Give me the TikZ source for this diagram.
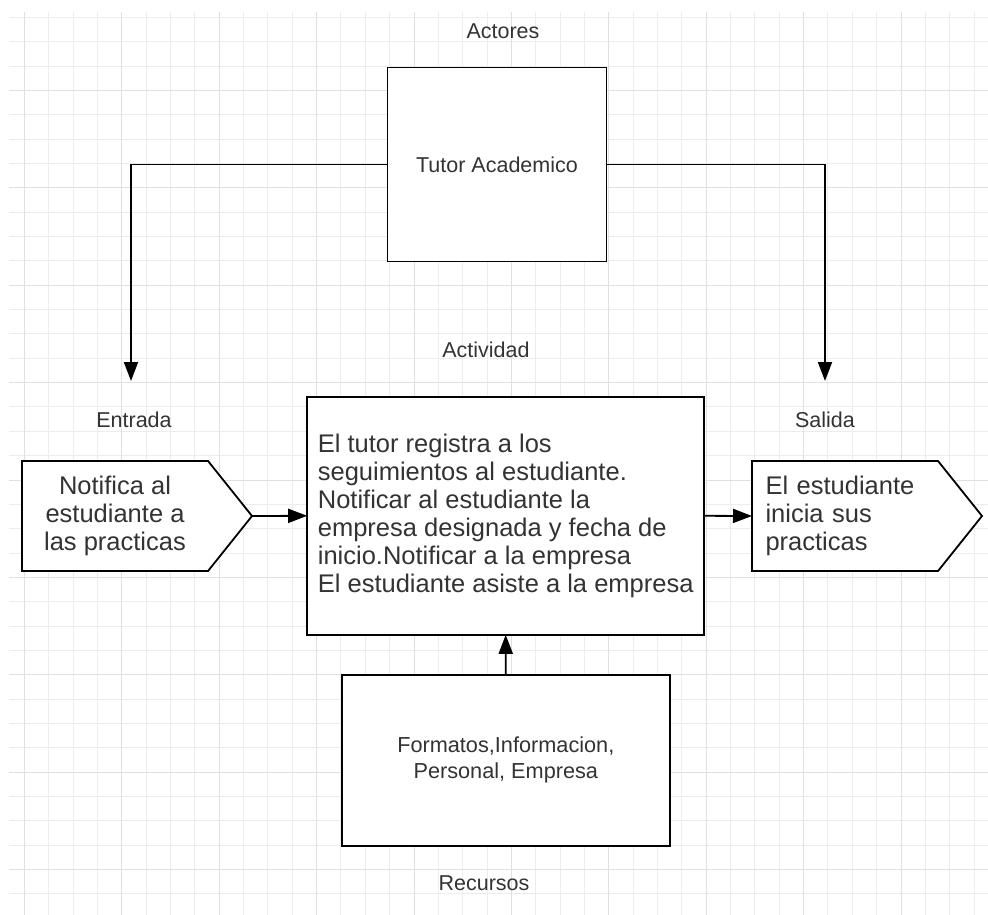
\documentclass[tikz,border=0pt]{standalone}
\usepackage{fontspec}
\setmainfont{Liberation Sans}
\usetikzlibrary{shapes.symbols,arrows.meta}
\definecolor{rejillaclara}{HTML}{ECECEC}
\definecolor{rejillaosc}{HTML}{E0E0E0}
\definecolor{texto}{HTML}{333333}

\begin{document}
\begin{tikzpicture}[x=1pt,y=-1pt,
    caja/.style={draw=black, line width=1.8pt, fill=white, outer sep=0pt, text=texto},
    flecha/.style={line width=1.8pt, -{Triangle[length=19pt,width=14pt]}},
    etiqueta/.style={text=texto, font=\fontsize{21.5}{26}\selectfont},
    grande/.style={font=\fontsize{25.5}{28}\selectfont},
    pentagono/.style={caja, grande, signal, signal to=east, signal pointer angle=102.7,
                      minimum width=230pt, minimum height=110pt, anchor=west}]
\useasboundingbox (0,0) rectangle (988,915);

% rejilla de fondo
\foreach \k in {1,...,40}
  \draw[rejillaclara, line width=0.9pt] (24.35*\k,12) -- (24.35*\k,915);
\foreach \k in {0,...,36}
  \draw[rejillaclara, line width=0.9pt] (9,17.3+24.35*\k) -- (988,17.3+24.35*\k);
\foreach \k in {1,5,...,37}
  \draw[rejillaosc, line width=0.9pt] (24.35*\k,12) -- (24.35*\k,915);
\foreach \k in {3,7,...,35}
  \draw[rejillaosc, line width=0.9pt] (9,17.3+24.35*\k) -- (988,17.3+24.35*\k);

% etiquetas
\node[etiqueta] (actores) at (503,31) {Actores};
\node[etiqueta] (actividad) at (486,350) {Actividad};
\node[etiqueta] (lblentrada) at (134,420) {Entrada};
\node[etiqueta] (lblsalida) at (825,420) {Salida};
\node[etiqueta] (recursos) at (484,883) {Recursos};

% cajas
\node[caja, etiqueta, minimum width=219pt, minimum height=194pt] (tutor) at (497,164.5) {Tutor Academico};
\node[caja, grande, minimum width=397pt, minimum height=238pt, align=left] (proceso) at (505.7,515.8)
  {El tutor registra a los\\
   seguimientos al estudiante.\\
   Notificar al estudiante la\\
   empresa designada y fecha de\\
   inicio.Notificar a la empresa\\
   El estudiante asiste a la empresa};
\node[caja, font=\fontsize{21.7}{26}\selectfont, minimum width=328pt, minimum height=171pt, align=center] (medios) at (505.8,760.3)
  {Formatos,Informacion,\\Personal, Empresa};
\node[pentagono, align=center] (entrada) at (22,516) {Notifica al\\estudiante a\\las practicas};
\node[pentagono, text width=159pt, align=left] (salida) at (752,516) {El estudiante\\inicia sus\\practicas};

% conectores
\coordinate (finent) at (131,381);
\coordinate (finsal) at (825,381);
\draw[flecha] (tutor.west) -| (finent);
\draw[flecha] (tutor.east) -| (finsal);
\draw[flecha] (entrada.east) -- (proceso.west);
\draw[flecha] (proceso.east) -- (salida.west);
\draw[flecha] (medios.north) -- (proceso.south);
\end{tikzpicture}
\end{document}
